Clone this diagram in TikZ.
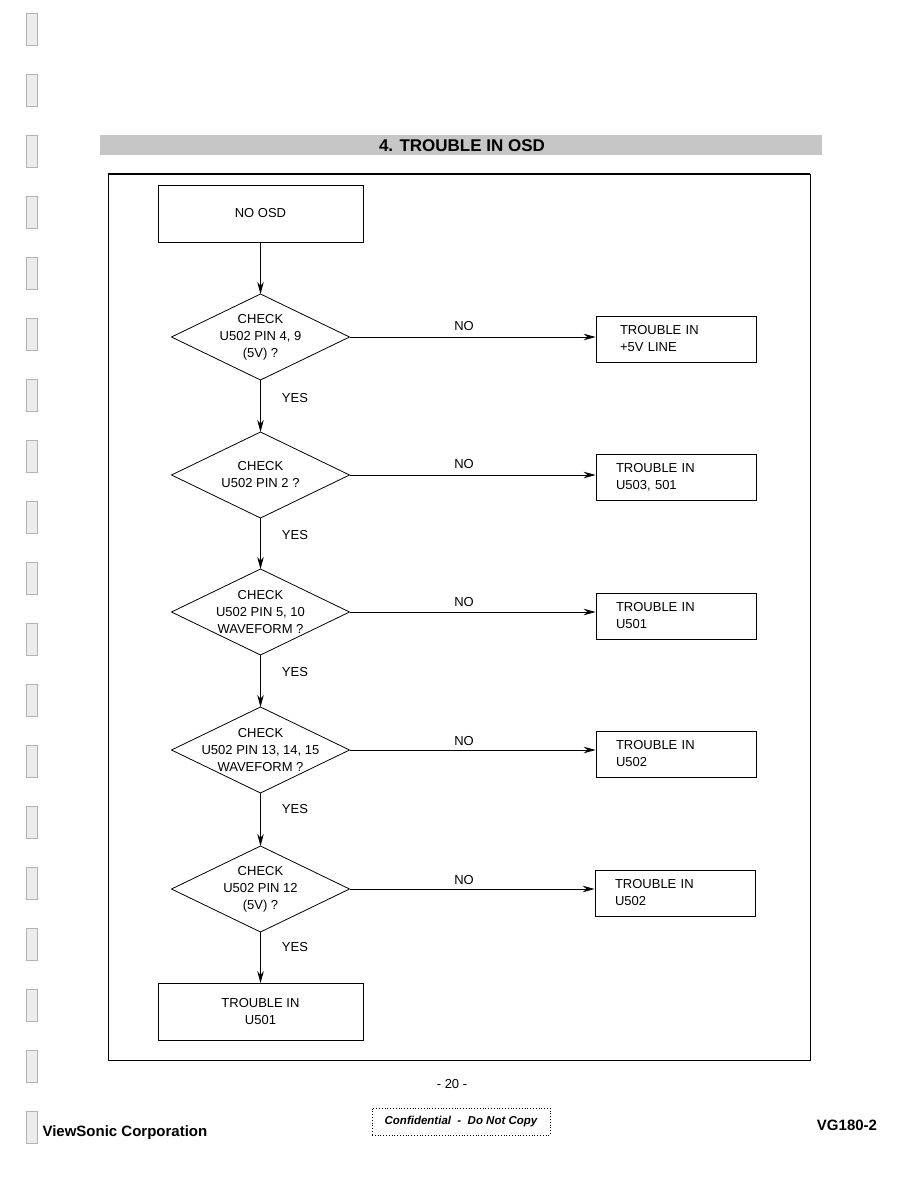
\documentclass[tikz,border=0pt]{standalone}
\usepackage{fontspec}
\setmainfont{Liberation Sans}
\usetikzlibrary{arrows.meta, positioning, shapes.geometric}

\tikzset{
    pagetext/.style={font=\fontsize{13}{17}\selectfont},
    startbox/.style={draw, line width=0.8pt, minimum width=205pt, minimum height=57pt,
        inner sep=0pt, align=center, pagetext},
    faultbox/.style={draw, line width=0.8pt, minimum width=160pt, minimum height=46pt,
        inner xsep=20pt, inner ysep=0pt, text width=120pt, align=left, pagetext},
    query/.style={diamond, draw, line width=0.8pt, minimum width=178pt, minimum height=86pt,
        inner sep=0pt, outer sep=0pt},
    answer/.style={pagetext},
    flow/.style={line width=0.8pt, -{Stealth[length=12pt, width=6.5pt]}}
}

\begin{document}
\begin{tikzpicture}[x=1pt, y=-1pt]
    \useasboundingbox (0,0) rectangle (918,1188);

    % binding holes of the scan
    \foreach \i in {0,...,18}
        \draw[gray!60, fill=gray!15, line width=0.6pt] (26,13+61*\i) rectangle (37,45+61*\i);

    % title bar and frame
    \fill[gray!45] (100,135) rectangle (822,155);
    \node[font=\fontsize{17}{17}\selectfont\bfseries] (title) at (462,145.5) {4. TROUBLE IN OSD};
    \draw[line width=0.8pt] (108,174) rectangle (810,1060);
    \draw[line width=1.6pt] (108,174) -- (810,174);

    % start
    \node[startbox] (nosd) at (260.5,213.5) {NO OSD};

    % checks
    \node[query, label={[pagetext, align=center]center:CHECK\\U502 PIN 4, 9\\(5V) ?}] (q1) at (260.5,337) {};
    \node[query, label={[pagetext, align=center]center:CHECK\\U502 PIN 2 ?}] (q2) at (260.5,475) {};
    \node[query, label={[pagetext, align=center]center:CHECK\\U502 PIN 5, 10\\WAVEFORM ?}] (q3) at (260.5,612) {};
    \node[query, label={[pagetext, align=center]center:CHECK\\U502 PIN 13, 14, 15\\WAVEFORM ?}] (q4) at (260.5,750) {};
    \node[query, label={[pagetext, align=center]center:CHECK\\U502 PIN 12\\(5V) ?}] (q5) at (260.5,889) {};

    % faults
    \node[faultbox, inner xsep=24pt, text width=112pt] (f1) at (676,339) {TROUBLE IN\\+5V LINE};
    \node[faultbox] (f2) at (676,477) {TROUBLE IN\\U503, 501};
    \node[faultbox] (f3) at (676,616) {TROUBLE IN\\U501};
    \node[faultbox] (f4) at (676,754) {TROUBLE IN\\U502};
    \node[faultbox] (f5) at (675,893) {TROUBLE IN\\U502};
    \node[startbox] (last) at (260.5,1012) {TROUBLE IN\\U501};

    % arrows
    \draw[flow] (nosd) -- (q1.north);
    \draw[flow] (q1.south) -- (q2.north);
    \draw[flow] (q2.south) -- (q3.north);
    \draw[flow] (q3.south) -- (q4.north);
    \draw[flow] (q4.south) -- (q5.north);
    \draw[flow] (q5.south) -- (last);
    \foreach \q in {1,...,5}
        \draw[flow] (q\q.east) -- (q\q.east -| f\q.west);

    % answers
    \foreach \q/\y in {1/326, 2/464, 3/602, 4/741, 5/880}
        \node[answer] (no\q) at (464,\y) {NO};
    \foreach \q/\y in {1/398, 2/535, 3/672, 4/809, 5/947}
        \node[answer] (yes\q) at (295,\y) {YES};

    % footer
    \node[pagetext] (pageno) at (452,1084) {- 20 -};
    \node[draw, dotted, line width=0.8pt, minimum width=178pt, minimum height=27pt,
        font=\fontsize{11.5}{12}\selectfont\bfseries\itshape] (conf) at (461,1121.5)
        {Confidential\ \ -\ \ Do Not Copy};
    \node[font=\fontsize{15}{15}\selectfont\bfseries, anchor=west] (corp) at (39,1133) {ViewSonic Corporation};
    \node[font=\fontsize{15}{15}\selectfont\bfseries] (model) at (847,1125) {VG180-2};
\end{tikzpicture}
\end{document}
